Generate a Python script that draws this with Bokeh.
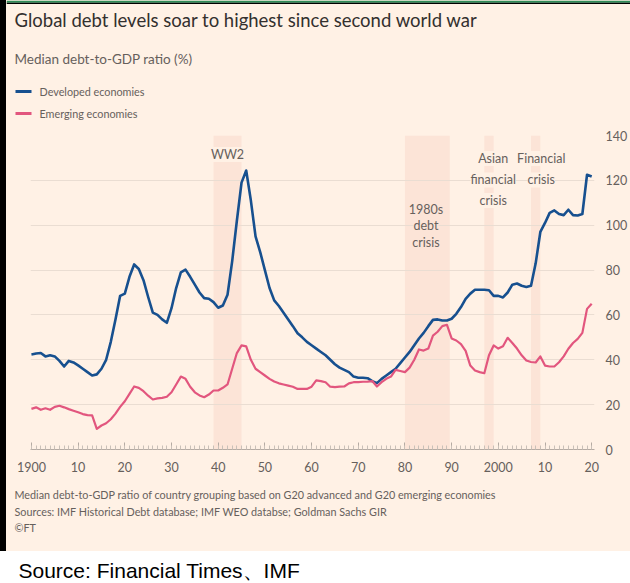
from bokeh.plotting import figure
from bokeh.layouts import column, row
from bokeh.models import BoxAnnotation, Label, SingleIntervalTicker, FixedTicker
from bokeh.embed import file_html
from bokeh.resources import INLINE

# ---- data -----------------------------------------------------------------
years = list(range(1900, 2021))

developed = [
    42.4, 42.8, 43.0, 41.5, 42.0, 41.5, 39.5, 37.0, 39.5, 38.8,   # 1900s
    37.5, 36.0, 34.5, 33.0, 33.5, 36.0, 40.0, 48.0, 58.0, 68.5,   # 1910s
    69.5, 77.0, 82.5, 80.5, 75.5, 68.0, 61.0, 60.0, 58.0, 56.5,   # 1920s
    63.0, 72.0, 79.0, 80.2, 77.0, 73.5, 70.0, 67.5, 67.2, 65.7,   # 1930s
    63.2, 64.2, 69.0, 84.0, 102.0, 119.0, 124.4, 111.0, 95.0, 88.0,  # 1940s
    80.0, 72.0, 66.5, 64.0, 61.0, 58.0, 55.0, 51.8, 50.0, 48.0,   # 1950s
    46.5, 45.0, 43.5, 42.0, 40.0, 38.0, 36.5, 35.5, 34.5, 32.5,   # 1960s
    32.0, 32.0, 31.8, 30.5, 29.6, 31.5, 33.0, 34.5, 36.0, 38.5,   # 1970s
    41.0, 43.5, 46.5, 49.5, 52.0, 55.0, 57.8, 58.0, 57.5, 57.5,   # 1980s
    58.3, 60.5, 63.5, 67.2, 69.5, 71.2, 71.2, 71.2, 71.0, 68.5,   # 1990s
    68.5, 67.8, 70.0, 73.5, 74.0, 73.0, 72.5, 73.0, 83.0, 97.0,   # 2000s
    101.0, 105.5, 106.6, 105.0, 104.5, 106.9, 104.5, 104.3, 105.0, 122.5,  # 2010s
    121.7,                                                          # 2020
]

emerging = [
    18.1, 18.8, 17.7, 18.4, 17.7, 19.0, 19.5, 18.8, 18.0, 17.3,   # 1900s
    16.6, 15.8, 15.3, 15.2, 9.2, 10.7, 11.7, 13.5, 16.0, 19.0,    # 1910s
    21.5, 24.8, 28.1, 27.5, 26.0, 24.0, 22.3, 22.8, 23.0, 23.5,   # 1920s
    25.5, 29.0, 32.5, 31.5, 28.0, 25.5, 24.1, 23.3, 24.5, 26.3,   # 1930s
    26.3, 27.5, 29.0, 36.0, 43.0, 46.4, 46.0, 40.0, 36.0, 34.5,   # 1940s
    33.0, 31.5, 30.3, 29.5, 29.0, 28.5, 28.0, 27.0, 27.0, 27.0,   # 1950s
    28.0, 30.8, 30.5, 30.0, 28.0, 27.8, 28.0, 28.1, 29.5, 30.0,   # 1960s
    30.0, 30.2, 30.3, 30.5, 28.1, 30.0, 31.5, 32.5, 35.5, 35.0,   # 1970s
    34.5, 36.5, 40.0, 44.6, 44.1, 45.0, 50.8, 52.5, 55.0, 55.6,   # 1980s
    49.5, 48.6, 47.0, 44.0, 37.4, 35.2, 34.5, 34.0, 42.0, 46.4,   # 1990s
    45.0, 46.0, 49.8, 47.5, 45.0, 42.0, 39.7, 39.0, 38.8, 41.5,   # 2000s
    37.4, 37.0, 37.0, 38.9, 41.5, 44.9, 47.5, 49.3, 52.0, 62.7,   # 2010s
    65.0,                                                          # 2020
]

series_names = ["Developed economies", "Emerging economies"]

x_tick_values = list(range(1900, 2021, 10))
x_tick_labels = ["1900", "10", "20", "30", "40", "50", "60", "70", "80",
                 "90", "2000", "10", "20"]
y_tick_values = [0, 20, 40, 60, 80, 100, 120, 140]

# shaded episodes
band_starts = [1939, 1980, 1997, 2007]
band_ends = [1945, 1989.6, 1999, 2009]

# episode captions: (text lines, centre year, value of each line)
captions = [
    (["WW2"], 1942.0, [131.5]),
    (["1980s", "debt", "crisis"], 1984.5, [106.9, 99.7, 92.1]),
    (["Asian", "financial", "crisis"], 1998.9, [129.7, 120.2, 111.0]),
    (["Financial", "crisis"], 2009.2, [129.7, 120.2]),
]

title_text = "Global debt levels soar to highest since second world war"
subtitle_text = "Median debt-to-GDP ratio (%)"
footnotes = [
    "Median debt-to-GDP ratio of country grouping based on G20 advanced and G20 emerging economies",
    "Sources: IMF Historical Debt database; IMF WEO databse; Goldman Sachs GIR",
    "\u00a9FT",
]
source_text = "Source: Financial Times\u3001IMF"

# ---- styling --------------------------------------------------------------
PAPER = "#FFF1E5"
BAND = "#FCE4D7"
BLUE = "#17508F"
PINK = "#E2567E"
GREY = "#66605C"
DARK = "#33302E"
GRID = "#EADDD2"
FONT = "Lato"

W, H = 630, 583
EDGE = 6            # dark strip down the left side
HEAD_H = 120        # title / subtitle / key
PAPER_BOTTOM = 551  # end of the tinted card
FOOT_TOP = 484      # start of the footnotes
FL, FR, FT, FB = 30, 600, 135, 449   # plotting frame on the page


def panel(width, top, bottom, left, fill):
    """A bare figure whose data coordinates equal page pixels."""
    f = figure(width=width, height=bottom - top,
               x_range=(left, left + width), y_range=(bottom, top),
               output_backend="svg", toolbar_location=None, title=None,
               x_axis_type=None, y_axis_type=None, min_border=0,
               background_fill_color=fill, border_fill_color=fill,
               outline_line_color=None,
               styles={"background-color": fill})
    f.xgrid.visible = False
    f.ygrid.visible = False
    return f


def text(f, t, x, y, size, color, font=FONT, align="left"):
    f.add_layout(Label(x=x, y=y, text=t, text_align=align,
                       text_baseline="middle", text_font=font,
                       text_font_size=size, text_color=color))


# ---- header: title, subtitle, key ----------------------------------------
head = panel(W - EDGE, 0, HEAD_H, EDGE, PAPER)
head.add_layout(BoxAnnotation(left=EDGE, right=W, top=0, bottom=2.2,
                              fill_color="#2E8B57", fill_alpha=1, line_color=None))
head.add_layout(BoxAnnotation(left=EDGE, right=W, top=2.2, bottom=3.5,
                              fill_color="black", fill_alpha=1, line_color=None))
text(head, title_text, 14, 19, "18.5px", DARK)
text(head, subtitle_text, 14, 58, "13.5px", GREY)
for name, color, ky in zip(series_names, [BLUE, PINK], [91, 113]):
    head.segment(x0=[15], y0=[ky], x1=[31], y1=[ky], line_color=color,
                 line_width=3)
    text(head, name, 39, ky, "10.8px", GREY)

# ---- main chart -----------------------------------------------------------
main_top = HEAD_H
p = figure(width=W - EDGE, height=FOOT_TOP - main_top,
           x_range=(1899.8, 2020.6), y_range=(0, 140),
           y_axis_location="right", output_backend="svg",
           toolbar_location=None, title=None,
           min_border_left=FL - EDGE, min_border_right=W - FR,
           min_border_top=FT - main_top, min_border_bottom=FOOT_TOP - FB,
           background_fill_color=PAPER, border_fill_color=PAPER,
           outline_line_color=None,
           styles={"background-color": PAPER})

xa = p.xaxis[0]
xa.ticker = SingleIntervalTicker(interval=10, num_minor_ticks=10)
xa.major_label_overrides = {v: t for v, t in zip(x_tick_values, x_tick_labels)}
xa.axis_line_color = "#B5ABA3"
xa.major_tick_line_color = "#B5ABA3"
xa.minor_tick_line_color = "#C9C0B8"
xa.major_tick_in, xa.major_tick_out = 7, 0
xa.minor_tick_in, xa.minor_tick_out = 4, 0
xa.major_label_standoff = 12
xa.major_label_text_font = FONT
xa.major_label_text_font_size = "12.5px"
xa.major_label_text_color = GREY

ya = p.yaxis[0]
ya.ticker = FixedTicker(ticks=y_tick_values)
ya.axis_line_color = None
ya.major_tick_line_color = None
ya.minor_tick_line_color = None
ya.major_label_standoff = 5
ya.major_label_text_font = FONT
ya.major_label_text_font_size = "12.5px"
ya.major_label_text_color = GREY

p.xgrid.grid_line_color = None
p.ygrid.ticker = FixedTicker(ticks=y_tick_values)
p.ygrid.grid_line_color = GRID
p.ygrid.grid_line_width = 1

# shaded crisis periods, under the grid
for s, e in zip(band_starts, band_ends):
    p.add_layout(BoxAnnotation(left=s, right=e, bottom=0, top=140,
                               fill_color=BAND, fill_alpha=1.0,
                               line_color=None, level="image"))

p.line(years, developed, line_color=BLUE, line_width=2.6, line_join="round")
p.line(years, emerging, line_color=PINK, line_width=2.2, line_join="round")

for lines, cx, vals in captions:
    bg = BAND if 1979 < cx < 1990 else PAPER
    for t, v in zip(lines, vals):
        p.add_layout(Label(x=cx, y=v, text=t, text_align="center",
                           text_baseline="middle", text_font=FONT,
                           text_font_size="12.5px", text_color=GREY,
                           background_fill_color=bg, background_fill_alpha=1.0))

# ---- footnotes ------------------------------------------------------------
foot = panel(W - EDGE, FOOT_TOP, PAPER_BOTTOM, EDGE, PAPER)
for i, t in enumerate(footnotes):
    text(foot, t, 14, 494 + 16.5 * i, "10.8px", GREY)

# ---- source line on white -------------------------------------------------
src = panel(W, PAPER_BOTTOM, H, 0, "white")
text(src, source_text, 18, 570, "21px", "black", font="Liberation Sans")


# each band of the card gets its own slice of the dark left strip
def strip(top, bottom):
    return panel(EDGE, top, bottom, 0, "black")


def band_row(top, bottom, fig):
    return row(strip(top, bottom), fig, spacing=0,
               styles={"background-color": PAPER})


page = column(
    band_row(0, HEAD_H, head),
    band_row(HEAD_H, FOOT_TOP, p),
    band_row(FOOT_TOP, PAPER_BOTTOM, foot),
    src,
    spacing=0,
    styles={"background-color": PAPER},
)

open("out.html", "w").write(file_html(page, INLINE))
